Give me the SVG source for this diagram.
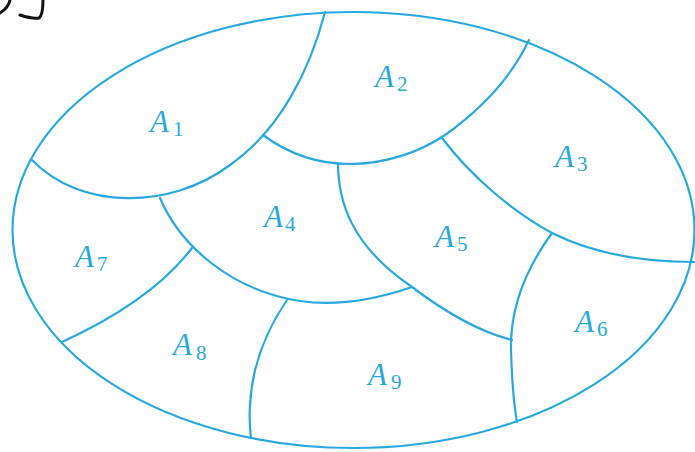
<svg xmlns="http://www.w3.org/2000/svg" width="695" height="452" viewBox="0 0 695 452">
<style>
.b{fill:none;stroke:#27a9e0;stroke-width:2.2;stroke-linecap:round}
.lbl{font-family:"Liberation Serif","Times New Roman",serif;fill:#27a9e0}
.it{font-style:italic;font-size:31px}
.sub{font-size:21px}
.ink{fill:none;stroke:#111;stroke-width:3;stroke-linecap:round;stroke-linejoin:round}
</style>
<rect width="695" height="452" fill="#fff"/>
<g id="scribble">
<path class="ink" d="M0,13 C5,10 9,5 10,0"/>
<path class="ink" d="M20,15 C26,17 33,19 39,18 C42,16 43,10 43,0"/>
</g>
<g id="boundaries">
<ellipse class="b" cx="353.5" cy="230" rx="341" ry="218"/>
<path class="b" d="M32,160 C80,210 170,210 230,165 C280,130 310,70 325,12"/>
<path class="b" d="M263,135 C290,155 320,164 350,164 C385,164 420,152 445,135 C480,110 510,80 529,40"/>
<path class="b" d="M442,138 C470,175 510,210 552,233 C590,252 640,262 694,262"/>
<path class="b" d="M552,233 C525,270 510,310 511,350 C512,385 514,405 517,422"/>
<path class="b" d="M338,163 C338,200 350,245 412,287 C445,312 480,332 512,340"/>
<path class="b" d="M160,198 C180,245 230,290 300,301 C340,307 380,298 412,287"/>
<path class="b" d="M192,248 C160,290 110,320 62,342"/>
<path class="b" d="M287,300 C268,328 252,365 250,405 C249,420 250,430 251,438"/>
</g>
<g id="A1"><text class="lbl" x="150" y="132"><tspan class="it">A</tspan><tspan class="sub" x="173" dy="4">1</tspan></text></g>
<g id="A2"><text class="lbl" x="375" y="87"><tspan class="it">A</tspan><tspan class="sub" x="397" dy="4">2</tspan></text></g>
<g id="A3"><text class="lbl" x="555" y="167"><tspan class="it">A</tspan><tspan class="sub" x="577" dy="4">3</tspan></text></g>
<g id="A4"><text class="lbl" x="264" y="227"><tspan class="it">A</tspan><tspan class="sub" x="285" dy="4">4</tspan></text></g>
<g id="A5"><text class="lbl" x="435" y="247"><tspan class="it">A</tspan><tspan class="sub" x="457" dy="4">5</tspan></text></g>
<g id="A6"><text class="lbl" x="575" y="332"><tspan class="it">A</tspan><tspan class="sub" x="597" dy="4">6</tspan></text></g>
<g id="A7"><text class="lbl" x="75" y="267"><tspan class="it">A</tspan><tspan class="sub" x="97" dy="4">7</tspan></text></g>
<g id="A8"><text class="lbl" x="173" y="355"><tspan class="it">A</tspan><tspan class="sub" x="196" dy="5">8</tspan></text></g>
<g id="A9"><text class="lbl" x="368" y="385"><tspan class="it">A</tspan><tspan class="sub" x="391" dy="4">9</tspan></text></g>
</svg>
